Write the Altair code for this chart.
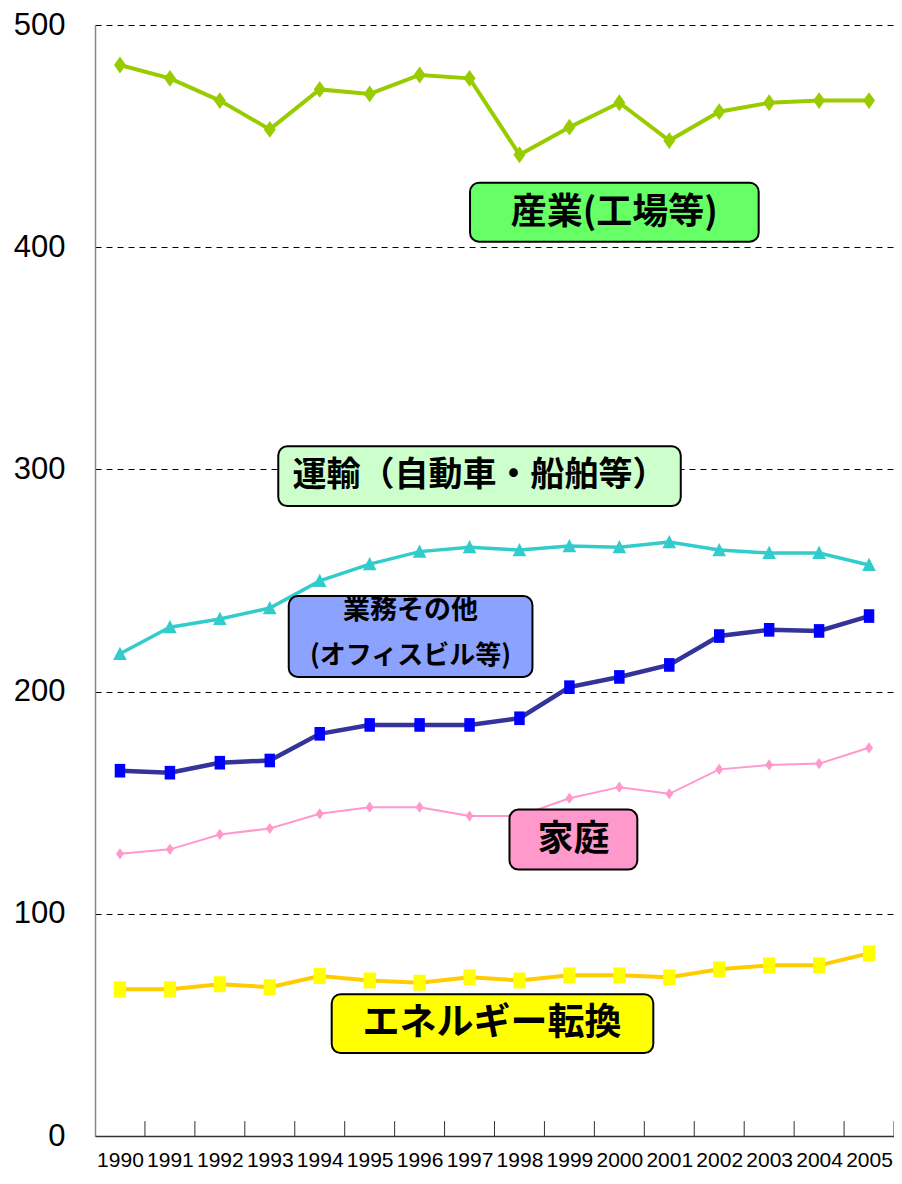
import altair as alt
import pandas as pd

years = list(range(1990, 2006))
industry = [482, 476, 466, 453, 471, 469, 477.5, 476, 441.6, 454, 465, 448, 461, 465, 466, 466]
transport = [217, 229, 232.7, 237.6, 249.8, 257.4, 263, 265, 263.7, 265.5, 265, 267.3, 263.7, 262.4, 262.4, 257]
commercial = [164.4, 163.5, 168, 169, 181, 185, 185, 185, 188, 202, 206.6, 212, 225, 227.8, 227.3, 234]
household = [127, 129, 135.7, 138.4, 145, 148, 148, 144, 144, 152, 157, 154, 165, 167, 167.6, 174.7]
energy = [66, 66, 68.3, 67, 72, 70, 69, 71.4, 70, 72.3, 72.3, 71.4, 75, 76.8, 76.8, 82.2]

DIAMOND = "M0,-1.4L1,0L0,1.4L-1,0Z"
TRIANGLE = "M0,-1.1L1.05,0.95L-1.05,0.95Z"
RECT_TALL = "M-1,-1.3L1,-1.3L1,1.3L-1,1.3Z"
series = [
    (industry, "#99CC00", 4, "#99CC00", DIAMOND, 144),
    (transport, "#33CCCC", 3.5, "#33CCCC", TRIANGLE, 169),
    (commercial, "#333399", 4.5, "#0000FF", RECT_TALL, 110),
    (household, "#FF99CC", 2, "#FF99CC", DIAMOND, 64),
    (energy, "#FFCC00", 4, "#FFFF00", RECT_TALL, 150),
]

FONT_NUM = "Liberation Sans"
xscale = alt.Scale(domain=[1989.5, 2005.5], nice=False, zero=False)
yscale = alt.Scale(domain=[0, 500], nice=False)

xaxis = alt.Axis(values=years, format="d", title=None, tickSize=0, grid=False,
                 labelFont=FONT_NUM, labelFontSize=21, labelColor="black", labelPadding=13,
                 labelOverlap=False, labelFlush=False,
                 domainColor="#333333", domainWidth=1.5)
yaxis = alt.Axis(values=[0, 100, 200, 300, 400, 500], title=None, tickSize=0,
                 labelFont=FONT_NUM, labelFontSize=31, labelColor="black", labelPadding=30,
                 grid=True, gridColor="black", gridDash=[6, 5], gridWidth=1,
                 domainColor="#888888", domainWidth=1.5)


def X(field):
    return alt.X(field, scale=xscale, axis=xaxis)


def Y(field):
    return alt.Y(field, scale=yscale, axis=yaxis)


layers = []

# inner tick marks at category boundaries
tick_df = pd.DataFrame({"b": [y + 0.5 for y in years]})
layers.append(alt.Chart(tick_df).mark_rule(color="#333333", strokeWidth=1).encode(
    x=X("b:Q"), y=alt.datum(0, scale=yscale, axis=yaxis), y2=alt.datum(6.7)))

for vals, lc, lw, mc, shape, size in series:
    df = pd.DataFrame({"year": years, "v": vals})
    layers.append(alt.Chart(df).mark_line(color=lc, strokeWidth=lw).encode(
        x=X("year:Q"), y=Y("v:Q")))
    layers.append(alt.Chart(df).mark_point(filled=True, shape=shape, size=size,
                                          color=mc, opacity=1, strokeWidth=0).encode(
        x=X("year:Q"), y=Y("v:Q")))

# label boxes
box_df = pd.DataFrame({
    "x1": [1997.01, 1993.17, 1993.38, 1997.80, 1994.24],
    "x2": [2002.79, 2001.23, 1998.26, 2000.36, 2000.68],
    "y1": [429.0, 310.4, 243.0, 146.9, 63.8],
    "y2": [402.5, 283.5, 206.6, 119.9, 37.3],
    "fill": ["#66FF66", "#CCFFCC", "#8CA2FF", "#FF99CC", "#FFFF00"],
})
layers.append(alt.Chart(box_df).mark_rect(stroke="black", strokeWidth=2, cornerRadius=9).encode(
    x=X("x1:Q"), x2="x2:Q", y=Y("y1:Q"), y2="y2:Q",
    fill=alt.Fill("fill:N", scale=None)))

text_df = pd.DataFrame({
    "x": [1999.9, 1997.2, 1995.82, 1995.82, 1999.08, 1997.45],
    "y": [415.5, 297.0, 236.3, 216.1, 133.4, 50.4],
    "t": ["産業(工場等)", "運輸（自動車・船舶等）", "業務その他", "(オフィスビル等)", "家庭", "エネルギー転換"],
    "s": [36, 34, 27, 26, 36, 37],
})
layers.append(alt.Chart(text_df).mark_text(font="Noto Sans CJK JP", fontWeight="bold",
                                           color="black", align="center", baseline="middle").encode(
    x=X("x:Q"), y=Y("y:Q"),
    text="t:N",
    size=alt.Size("s:Q", scale=None)))

chart = alt.layer(*layers).properties(
    width=799, height=1111, autosize="none", background="white",
    padding={"left": 87, "top": 17, "right": 0, "bottom": 40},
).configure_view(stroke=None)

chart.save("out.html", embed_options={"renderer": "svg", "actions": False})
